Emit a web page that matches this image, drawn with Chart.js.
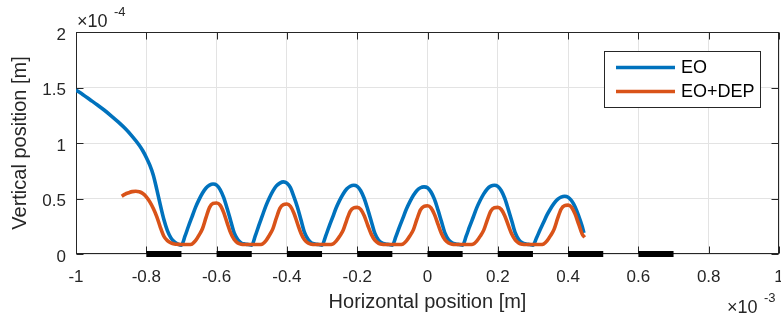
<!DOCTYPE html>
<html>
<head>
<meta charset="utf-8">
<script src="https://cdn.jsdelivr.net/npm/chart.js@4.4.0/dist/chart.umd.min.js"></script>
<style>
  html, body { margin: 0; padding: 0; background: #fff; }
  #chart { display: block; }
</style>
</head>
<body>
<canvas id="chart" width="781" height="322"></canvas>
<script>
// x in units of 1e-3 m, y in units of 1e-4 m (the axis exponents are drawn separately)
var eoX = [-1, -0.98, -0.96, -0.94, -0.92, -0.90, -0.88, -0.86, -0.84, -0.82, -0.81, -0.80, -0.79, -0.78, -0.77, -0.76, -0.75, -0.74, -0.73, -0.72, -0.71,
  -0.70, -0.69, -0.68, -0.67, -0.66, -0.65, -0.64, -0.63, -0.62, -0.61, -0.60, -0.59, -0.58, -0.57, -0.56, -0.55, -0.54, -0.53, -0.52, -0.51,
  -0.50, -0.49, -0.48, -0.47, -0.46, -0.45, -0.44, -0.43, -0.42, -0.41, -0.40, -0.39, -0.38, -0.37, -0.36, -0.35, -0.34, -0.33, -0.32, -0.31,
  -0.30, -0.29, -0.28, -0.27, -0.26, -0.25, -0.24, -0.23, -0.22, -0.21, -0.20, -0.19, -0.18, -0.17, -0.16, -0.15, -0.14, -0.13, -0.12, -0.11,
  -0.10, -0.09, -0.08, -0.07, -0.06, -0.05, -0.04, -0.03, -0.02, -0.01, 0, 0.01, 0.02, 0.03, 0.04, 0.05, 0.06, 0.07, 0.08, 0.09,
  0.10, 0.11, 0.12, 0.13, 0.14, 0.15, 0.16, 0.17, 0.18, 0.19, 0.20, 0.21, 0.22, 0.23, 0.24, 0.25, 0.26, 0.27, 0.28, 0.29,
  0.30, 0.31, 0.32, 0.33, 0.34, 0.35, 0.36, 0.37, 0.38, 0.39, 0.40, 0.41, 0.42, 0.43, 0.44, 0.445];
var eoY = [1.477, 1.435, 1.39, 1.345, 1.297, 1.245, 1.19, 1.13, 1.06, 0.98, 0.93, 0.87, 0.80, 0.71, 0.58, 0.44, 0.31, 0.21, 0.145, 0.11, 0.09,
  0.08, 0.16, 0.25, 0.335, 0.42, 0.49, 0.55, 0.595, 0.62, 0.63, 0.62, 0.58, 0.51, 0.41, 0.30, 0.19, 0.13, 0.10, 0.09, 0.085,
  0.08, 0.163, 0.256, 0.344, 0.432, 0.505, 0.567, 0.614, 0.639, 0.65, 0.639, 0.598, 0.515, 0.422, 0.308, 0.194, 0.132, 0.10, 0.09, 0.085,
  0.08, 0.159, 0.247, 0.33, 0.414, 0.483, 0.541, 0.585, 0.61, 0.62, 0.61, 0.57, 0.50, 0.402, 0.296, 0.188, 0.129, 0.10, 0.09, 0.085,
  0.08, 0.156, 0.242, 0.323, 0.405, 0.472, 0.53, 0.573, 0.597, 0.605, 0.597, 0.559, 0.492, 0.395, 0.29, 0.185, 0.127, 0.10, 0.09, 0.085,
  0.08, 0.16, 0.248, 0.331, 0.415, 0.484, 0.542, 0.586, 0.611, 0.62, 0.61, 0.57, 0.50, 0.40, 0.295, 0.187, 0.128, 0.10, 0.09, 0.085,
  0.08, 0.144, 0.216, 0.284, 0.352, 0.408, 0.456, 0.492, 0.512, 0.52, 0.512, 0.48, 0.424, 0.344, 0.25, 0.19];

var depX = [-0.87, -0.86, -0.85, -0.84, -0.83, -0.82, -0.81, -0.80, -0.79, -0.78, -0.77, -0.76, -0.75, -0.74, -0.73, -0.72, -0.71, -0.70,
  -0.68, -0.67, -0.66, -0.65, -0.64, -0.63, -0.62, -0.61, -0.60, -0.59, -0.58, -0.57, -0.56, -0.55, -0.54, -0.53, -0.52,
  -0.48, -0.47, -0.46, -0.45, -0.44, -0.43, -0.42, -0.41, -0.40, -0.39, -0.38, -0.37, -0.36, -0.35, -0.34, -0.33, -0.32,
  -0.28, -0.27, -0.26, -0.25, -0.24, -0.23, -0.22, -0.21, -0.20, -0.19, -0.18, -0.17, -0.16, -0.15, -0.14, -0.13, -0.12,
  -0.08, -0.07, -0.06, -0.05, -0.04, -0.03, -0.02, -0.01, 0, 0.01, 0.02, 0.03, 0.04, 0.05, 0.06, 0.07, 0.08,
  0.12, 0.13, 0.14, 0.15, 0.16, 0.17, 0.18, 0.19, 0.20, 0.21, 0.22, 0.23, 0.24, 0.25, 0.26, 0.27, 0.28,
  0.32, 0.33, 0.34, 0.35, 0.36, 0.37, 0.38, 0.39, 0.40, 0.41, 0.42, 0.43, 0.44, 0.447];
var depY = [0.52, 0.54, 0.552, 0.562, 0.565, 0.56, 0.545, 0.515, 0.47, 0.41, 0.335, 0.24, 0.16, 0.12, 0.10, 0.09, 0.087, 0.085,
  0.085, 0.09, 0.12, 0.17, 0.23, 0.33, 0.42, 0.455, 0.46, 0.44, 0.375, 0.28, 0.19, 0.13, 0.10, 0.088, 0.085,
  0.085, 0.09, 0.119, 0.168, 0.226, 0.324, 0.411, 0.445, 0.45, 0.43, 0.367, 0.275, 0.187, 0.128, 0.099, 0.088, 0.085,
  0.085, 0.089, 0.116, 0.16, 0.214, 0.304, 0.385, 0.416, 0.42, 0.402, 0.344, 0.259, 0.179, 0.125, 0.098, 0.088, 0.085,
  0.085, 0.09, 0.118, 0.164, 0.22, 0.314, 0.397, 0.43, 0.435, 0.416, 0.355, 0.267, 0.183, 0.126, 0.099, 0.088, 0.085,
  0.085, 0.089, 0.116, 0.161, 0.215, 0.305, 0.386, 0.417, 0.42, 0.401, 0.343, 0.258, 0.178, 0.125, 0.098, 0.088, 0.085,
  0.085, 0.09, 0.118, 0.165, 0.222, 0.318, 0.403, 0.436, 0.44, 0.421, 0.359, 0.269, 0.18, 0.15];

// electrodes along the bottom
var electrodeStart = [-0.8, -0.6, -0.4, -0.2, 0, 0.2, 0.4, 0.6];
var electrodeEnd = [-0.7, -0.5, -0.3, -0.1, 0.1, 0.3, 0.5, 0.7];

var xTicks = [-1, -0.8, -0.6, -0.4, -0.2, 0, 0.2, 0.4, 0.6, 0.8, 1];
var xTickLabels = ['-1', '-0.8', '-0.6', '-0.4', '-0.2', '0', '0.2', '0.4', '0.6', '0.8', '1'];
var yTicks = [0, 0.5, 1, 1.5, 2];
var yTickLabels = ['0', '0.5', '1', '1.5', '2'];

var seriesLabels = ['EO', 'EO+DEP'];
var seriesColors = ['#0072BD', '#D95319'];
var axisColor = '#262626';
var fontFamily = '"Liberation Sans", Arial, Helvetica, sans-serif';

function toPoints(xs, ys) {
  var pts = [];
  for (var i = 0; i < xs.length; i++) {
    pts.push({ x: xs[i], y: ys[i] });
  }
  return pts;
}

var electrodePoints = [];
for (var i = 0; i < electrodeStart.length; i++) {
  electrodePoints.push({ x: electrodeStart[i], y: 0 });
  electrodePoints.push({ x: electrodeEnd[i], y: 0 });
  electrodePoints.push({ x: electrodeEnd[i], y: null });
}

// box, inward ticks, exponent labels and legend, drawn the MATLAB way
var plotDecor = {
  id: 'plotDecor',
  beforeDatasetsDraw: function(chart) {
    var ctx = chart.ctx;
    var a = chart.chartArea;
    var xs = chart.scales.x;
    var ys = chart.scales.y;
    var L = Math.round(a.left) + 0.5, R = Math.round(a.right) - 0.5;
    var T = Math.round(a.top) + 0.5, B = Math.round(a.bottom) - 0.5;
    ctx.save();
    ctx.strokeStyle = axisColor;
    ctx.lineWidth = 1;
    ctx.beginPath();
    xTicks.forEach(function(v) {
      var px = Math.round(xs.getPixelForValue(v)) + 0.5;
      ctx.moveTo(px, B); ctx.lineTo(px, B - 7);
      ctx.moveTo(px, T); ctx.lineTo(px, T + 7);
    });
    yTicks.forEach(function(v) {
      var py = Math.round(ys.getPixelForValue(v)) + 0.5;
      ctx.moveTo(L, py); ctx.lineTo(L + 7, py);
      ctx.moveTo(R, py); ctx.lineTo(R - 7, py);
    });
    ctx.stroke();
    ctx.strokeRect(L, T, R - L, B - T);
    ctx.restore();
  },
  afterDraw: function(chart) {
    var ctx = chart.ctx;
    ctx.save();
    ctx.fillStyle = axisColor;
    ctx.textBaseline = 'alphabetic';
    ctx.textAlign = 'left';

    // y exponent, top left
    ctx.font = '18px ' + fontFamily;
    ctx.fillText('\u00D710', 77, 27);
    ctx.font = '13px ' + fontFamily;
    ctx.fillText('-4', 114, 16);

    // x exponent, bottom right
    ctx.font = '18px ' + fontFamily;
    ctx.fillText('\u00D710', 727, 313);
    ctx.font = '13px ' + fontFamily;
    ctx.fillText('-3', 764, 302);

    // legend
    var bx = 604.5, by = 51.5, bw = 156, bh = 56;
    ctx.fillStyle = '#fff';
    ctx.fillRect(bx, by, bw, bh);
    ctx.strokeStyle = axisColor;
    ctx.lineWidth = 1;
    ctx.strokeRect(bx, by, bw, bh);
    ctx.font = '18px ' + fontFamily;
    ctx.textBaseline = 'middle';
    for (var k = 0; k < seriesLabels.length; k++) {
      var ly = 67.5 + k * 24;
      ctx.strokeStyle = seriesColors[k];
      ctx.lineWidth = 3.5;
      ctx.beginPath();
      ctx.moveTo(616, ly);
      ctx.lineTo(675, ly);
      ctx.stroke();
      ctx.fillStyle = '#000';
      ctx.fillText(seriesLabels[k], 681, ly + 1);
    }
    ctx.restore();
  }
};

Chart.defaults.font.family = fontFamily;
Chart.defaults.color = axisColor;

var ctx = document.getElementById('chart').getContext('2d');
var chart = new Chart(ctx, {
  type: 'line',
  data: {
    datasets: [
      {
        label: 'electrodes',
        data: electrodePoints,
        borderColor: '#000',
        borderWidth: 6,
        borderCapStyle: 'butt',
        pointRadius: 0,
        spanGaps: false,
        clip: false,
        order: 0
      },
      {
        label: seriesLabels[0],
        data: toPoints(eoX, eoY),
        borderColor: seriesColors[0],
        borderWidth: 3.6,
        pointRadius: 0,
        cubicInterpolationMode: 'monotone',
        fill: false,
        order: 2
      },
      {
        label: seriesLabels[1],
        data: toPoints(depX, depY),
        borderColor: seriesColors[1],
        borderWidth: 3.6,
        pointRadius: 0,
        cubicInterpolationMode: 'monotone',
        fill: false,
        order: 1
      }
    ]
  },
  options: {
    responsive: false,
    animation: false,
    devicePixelRatio: 1,
    layout: { padding: { top: 32, right: 2, left: 0, bottom: 0 } },
    plugins: {
      legend: { display: false },
      tooltip: { enabled: false }
    },
    scales: {
      x: {
        type: 'linear',
        min: -1,
        max: 1,
        afterBuildTicks: function(scale) {
          scale.ticks = xTicks.map(function(v) { return { value: v }; });
        },
        afterFit: function(scale) {
          scale.height = 68;
          scale.paddingLeft = 0;
          scale.paddingRight = 0;
        },
        ticks: {
          autoSkip: false,
          maxRotation: 0,
          padding: 13,
          font: { size: 17 },
          color: axisColor,
          callback: function(value, index) { return xTickLabels[index]; }
        },
        grid: { color: '#e3e3e3', drawTicks: false },
        border: { display: false },
        title: {
          display: true,
          text: 'Horizontal position [m]',
          font: { size: 20 },
          color: axisColor,
          padding: { top: 0, bottom: 8 }
        }
      },
      y: {
        type: 'linear',
        min: 0,
        max: 2,
        afterBuildTicks: function(scale) {
          scale.ticks = yTicks.map(function(v) { return { value: v }; });
        },
        afterFit: function(scale) {
          scale.width = 76;
        },
        ticks: {
          autoSkip: false,
          padding: 10,
          labelOffset: 3,
          font: { size: 17 },
          color: axisColor,
          callback: function(value, index) { return yTickLabels[index]; }
        },
        grid: { color: '#e3e3e3', drawTicks: false },
        border: { display: false },
        title: {
          display: true,
          text: 'Vertical position [m]',
          font: { size: 20 },
          color: axisColor,
          padding: { top: 8, bottom: 0 }
        }
      }
    }
  },
  plugins: [plotDecor]
});
</script>
</body>
</html>
